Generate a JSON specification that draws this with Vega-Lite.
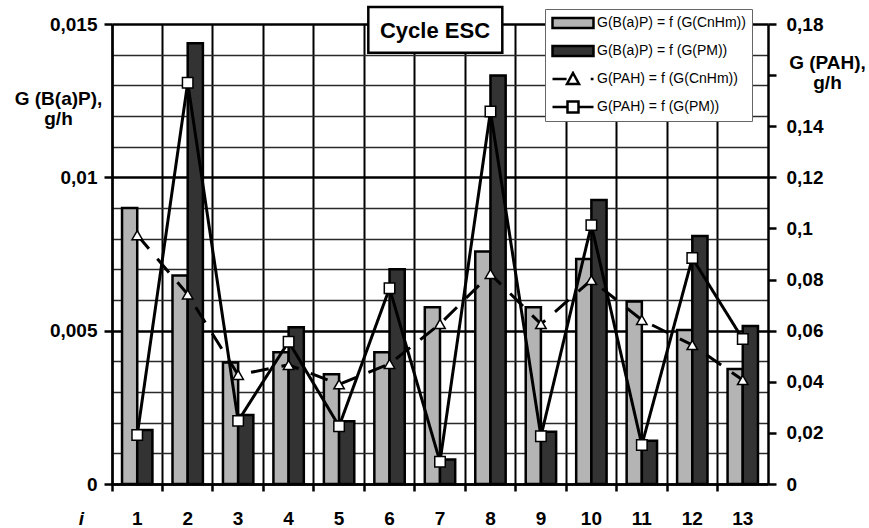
{
  "$schema": "https://vega.github.io/schema/vega-lite/v6.json",
  "width": 656,
  "height": 460,
  "autosize": {"type": "none"},
  "padding": {"left": 112, "top": 24, "right": 101, "bottom": 44},
  "background": "white",
  "config": {
    "font": "Liberation Sans",
    "view": {"stroke": null},
    "axis": {"labelColor": "black", "titleColor": "black", "domainColor": "black", "tickColor": "black"},
    "legend": {"strokeWidth": 1}
  },
  "datasets": {
    "bap": [
      {"i": "1", "series": "G(B(a)P) = f (G(CnHm))", "value": 0.009},
      {"i": "2", "series": "G(B(a)P) = f (G(CnHm))", "value": 0.0068},
      {"i": "3", "series": "G(B(a)P) = f (G(CnHm))", "value": 0.00396},
      {"i": "4", "series": "G(B(a)P) = f (G(CnHm))", "value": 0.0043},
      {"i": "5", "series": "G(B(a)P) = f (G(CnHm))", "value": 0.00358},
      {"i": "6", "series": "G(B(a)P) = f (G(CnHm))", "value": 0.0043},
      {"i": "7", "series": "G(B(a)P) = f (G(CnHm))", "value": 0.00576},
      {"i": "8", "series": "G(B(a)P) = f (G(CnHm))", "value": 0.00758},
      {"i": "9", "series": "G(B(a)P) = f (G(CnHm))", "value": 0.00576},
      {"i": "10", "series": "G(B(a)P) = f (G(CnHm))", "value": 0.00734},
      {"i": "11", "series": "G(B(a)P) = f (G(CnHm))", "value": 0.00595},
      {"i": "12", "series": "G(B(a)P) = f (G(CnHm))", "value": 0.00502},
      {"i": "13", "series": "G(B(a)P) = f (G(CnHm))", "value": 0.00375},
      {"i": "1", "series": "G(B(a)P) = f (G(PM))", "value": 0.00176},
      {"i": "2", "series": "G(B(a)P) = f (G(PM))", "value": 0.01437},
      {"i": "3", "series": "G(B(a)P) = f (G(PM))", "value": 0.00225},
      {"i": "4", "series": "G(B(a)P) = f (G(PM))", "value": 0.00511},
      {"i": "5", "series": "G(B(a)P) = f (G(PM))", "value": 0.00205},
      {"i": "6", "series": "G(B(a)P) = f (G(PM))", "value": 0.007},
      {"i": "7", "series": "G(B(a)P) = f (G(PM))", "value": 0.0008},
      {"i": "8", "series": "G(B(a)P) = f (G(PM))", "value": 0.01332},
      {"i": "9", "series": "G(B(a)P) = f (G(PM))", "value": 0.0017},
      {"i": "10", "series": "G(B(a)P) = f (G(PM))", "value": 0.00926},
      {"i": "11", "series": "G(B(a)P) = f (G(PM))", "value": 0.00141},
      {"i": "12", "series": "G(B(a)P) = f (G(PM))", "value": 0.00809},
      {"i": "13", "series": "G(B(a)P) = f (G(PM))", "value": 0.00515}
    ],
    "pah": [
      {"i": "1", "series": "G(PAH) = f (G(CnHm))", "value": 0.0974},
      {"i": "2", "series": "G(PAH) = f (G(CnHm))", "value": 0.0742},
      {"i": "3", "series": "G(PAH) = f (G(CnHm))", "value": 0.0427},
      {"i": "4", "series": "G(PAH) = f (G(CnHm))", "value": 0.0466},
      {"i": "5", "series": "G(PAH) = f (G(CnHm))", "value": 0.039},
      {"i": "6", "series": "G(PAH) = f (G(CnHm))", "value": 0.047},
      {"i": "7", "series": "G(PAH) = f (G(CnHm))", "value": 0.0626},
      {"i": "8", "series": "G(PAH) = f (G(CnHm))", "value": 0.0822},
      {"i": "9", "series": "G(PAH) = f (G(CnHm))", "value": 0.0626},
      {"i": "10", "series": "G(PAH) = f (G(CnHm))", "value": 0.0798},
      {"i": "11", "series": "G(PAH) = f (G(CnHm))", "value": 0.0642},
      {"i": "12", "series": "G(PAH) = f (G(CnHm))", "value": 0.0544},
      {"i": "13", "series": "G(PAH) = f (G(CnHm))", "value": 0.0407},
      {"i": "1", "series": "G(PAH) = f (G(PM))", "value": 0.0192},
      {"i": "2", "series": "G(PAH) = f (G(PM))", "value": 0.157},
      {"i": "3", "series": "G(PAH) = f (G(PM))", "value": 0.0247},
      {"i": "4", "series": "G(PAH) = f (G(PM))", "value": 0.0557},
      {"i": "5", "series": "G(PAH) = f (G(PM))", "value": 0.0226},
      {"i": "6", "series": "G(PAH) = f (G(PM))", "value": 0.0766},
      {"i": "7", "series": "G(PAH) = f (G(PM))", "value": 0.0087},
      {"i": "8", "series": "G(PAH) = f (G(PM))", "value": 0.1458},
      {"i": "9", "series": "G(PAH) = f (G(PM))", "value": 0.0187},
      {"i": "10", "series": "G(PAH) = f (G(PM))", "value": 0.1013},
      {"i": "11", "series": "G(PAH) = f (G(PM))", "value": 0.0153},
      {"i": "12", "series": "G(PAH) = f (G(PM))", "value": 0.0884},
      {"i": "13", "series": "G(PAH) = f (G(PM))", "value": 0.0567}
    ],
    "note": [{"i": "7", "value": 0.1777, "label": "Cycle ESC"}]
  },
  "layer": [
    {
      "data": {"name": "bap"},
      "mark": {"type": "bar", "stroke": "black", "strokeWidth": 2.5},
      "encoding": {
        "x": {
          "field": "i", "type": "nominal",
          "scale": {"domain": ["1","2","3","4","5","6","7","8","9","10","11","12","13"], "paddingInner": 0, "paddingOuter": 0},
          "axis": {
            "orient": "bottom",
            "bandPosition": 0, "labels": false, "ticks": true, "tickSize": 7, "tickWidth": 2.5,
            "domain": true, "domainWidth": 2.5, "grid": true, "gridColor": "black", "gridWidth": 2, "gridOpacity": 1,
            "title": "i", "titleFontSize": 19, "titleFontWeight": "bold", "titleFontStyle": "italic",
            "titleX": -31, "titleY": 40, "titleAlign": "center", "titleBaseline": "alphabetic"
          }
        },
        "xOffset": {
          "field": "series", "type": "nominal",
          "scale": {"domain": ["G(B(a)P) = f (G(CnHm))", "G(B(a)P) = f (G(PM))"], "paddingInner": 0, "paddingOuter": 0.66}
        },
        "y": {
          "field": "value", "type": "quantitative",
          "scale": {"domain": [0, 0.015], "nice": false, "zero": true},
          "axis": {
            "orient": "left",
            "values": [0, 0.001, 0.002, 0.003, 0.004, 0.005, 0.006, 0.007, 0.008, 0.009, 0.01, 0.011, 0.012, 0.013, 0.014, 0.015],
            "grid": true,
            "gridColor": {"condition": {"test": "round(datum.value*1000) % 5 == 0", "value": "black"}, "value": "#2a2a2a"},
            "gridWidth": {"condition": {"test": "round(datum.value*1000) % 5 == 0", "value": 2.5}, "value": 1.3},
            "gridOpacity": 1,
            "tickOpacity": {"condition": {"test": "round(datum.value*1000) % 5 == 0", "value": 1}, "value": 0},
            "tickSize": 8, "tickWidth": 2.5, "domainWidth": 2.5,
            "labelExpr": "round(datum.value*1000) % 5 == 0 ? replace(format(datum.value, '.3~f'), '.', ',') : ''",
            "labelFontSize": 19, "labelFontWeight": "bold", "labelPadding": 7,
            "labelFlush": false, "labelOverlap": false,
            "title": ["G (B(a)P),", "g/h"], "titleAngle": 0, "titleAlign": "center", "titleBaseline": "alphabetic",
            "titleX": -54, "titleY": 80, "titleFontSize": 19, "titleFontWeight": "bold", "titleLineHeight": 20
          }
        },
        "fill": {
          "field": "series", "type": "nominal",
          "scale": {
            "domain": ["G(B(a)P) = f (G(CnHm))", "G(B(a)P) = f (G(PM))", "G(PAH) = f (G(CnHm))", "G(PAH) = f (G(PM))"],
            "range": ["#b4b4b4", "#333333", "white", "white"]
          },
          "legend": {
            "title": null, "orient": "none", "legendX": 433, "legendY": -15,
            "fillColor": "white", "strokeColor": "#666666",
            "padding": 6, "rowPadding": 12, "clipHeight": 16,
            "labelFontSize": 14, "labelColor": "black", "labelOffset": 13, "labelLimit": 400,
            "symbolSize": 900, "symbolStrokeColor": "black", "symbolStrokeWidth": 2.5, "symbolOpacity": 1,
            "encode": {
              "symbols": {
                "update": {
                  "shape": {"signal": "datum.value === 'G(PAH) = f (G(CnHm))' ? 'M-1,0H-0.06M1.55,0H1.733M0.367,-0.4L0.767,0.333H-0.033Z' : datum.value === 'G(PAH) = f (G(PM))' ? 'M-1,0H0M0.733,0H1.733M0,-0.367H0.733V0.367H0Z' : 'M-1,-0.333H1.733V0.333H-1Z'"}
                }
              }
            }
          }
        }
      }
    },
    {
      "encoding": {
        "x": {
          "field": "i", "type": "nominal",
          "scale": {"domain": ["1","2","3","4","5","6","7","8","9","10","11","12","13"], "paddingInner": 0, "paddingOuter": 0},
          "axis": {
            "orient": "bottom",
            "domain": false, "ticks": false, "tickSize": 0, "grid": false, "labelAngle": 0,
            "labelFontSize": 19, "labelFontWeight": "bold", "labelPadding": 25, "title": null
          }
        },
        "y": {
          "field": "value", "type": "quantitative",
          "scale": {"domain": [0, 0.18], "nice": false, "zero": true},
          "axis": {
            "orient": "right",
            "values": [0, 0.02, 0.04, 0.06, 0.08, 0.1, 0.12, 0.14, 0.16, 0.18],
            "grid": false, "tickSize": 8, "tickWidth": 2.5, "domainWidth": 2.5,
            "labelExpr": "abs(datum.value - 0.16) < 0.001 ? '' : replace(format(datum.value, '.2~f'), '.', ',')",
            "labelFontSize": 19, "labelFontWeight": "bold", "labelPadding": 10,
            "labelFlush": false, "labelOverlap": false,
            "title": ["G (PAH),", "g/h"], "titleAngle": 0, "titleAlign": "center", "titleBaseline": "alphabetic",
            "titleX": 59, "titleY": 44, "titleFontSize": 19, "titleFontWeight": "bold", "titleLineHeight": 20
          }
        }
      },
      "layer": [
        {
          "data": {"name": "pah"},
          "mark": {"type": "line", "color": "black", "strokeWidth": 3},
          "encoding": {
            "order": {"value": null},
            "strokeDash": {
              "field": "series", "type": "nominal",
              "scale": {"domain": ["G(PAH) = f (G(CnHm))", "G(PAH) = f (G(PM))"], "range": [[18, 13], [1, 0]]},
              "legend": null
            }
          }
        },
        {
          "data": {"name": "pah"},
          "mark": {"type": "point", "filled": true, "fill": "white", "stroke": "black", "strokeWidth": 1.5, "size": 110, "opacity": 1},
          "encoding": {
            "shape": {
              "field": "series", "type": "nominal",
              "scale": {"domain": ["G(PAH) = f (G(CnHm))", "G(PAH) = f (G(PM))"], "range": ["triangle-up", "square"]},
              "legend": null
            }
          }
        },
        {
          "data": {"name": "note"},
          "mark": {"type": "point", "shape": "M-1.07,-0.343H0.93V0.343H-1.07Z", "size": 17956, "filled": true, "fill": "white", "stroke": "black", "strokeWidth": 2.5, "opacity": 1}
        },
        {
          "data": {"name": "note"},
          "mark": {"type": "text", "fontSize": 22, "fontWeight": "bold", "dx": -5, "dy": 8, "baseline": "alphabetic", "align": "center", "color": "black"},
          "encoding": {"text": {"field": "label", "type": "nominal"}}
        }
      ]
    }
  ],
  "resolve": {"scale": {"y": "independent"}, "axis": {"x": "independent"}}
}
